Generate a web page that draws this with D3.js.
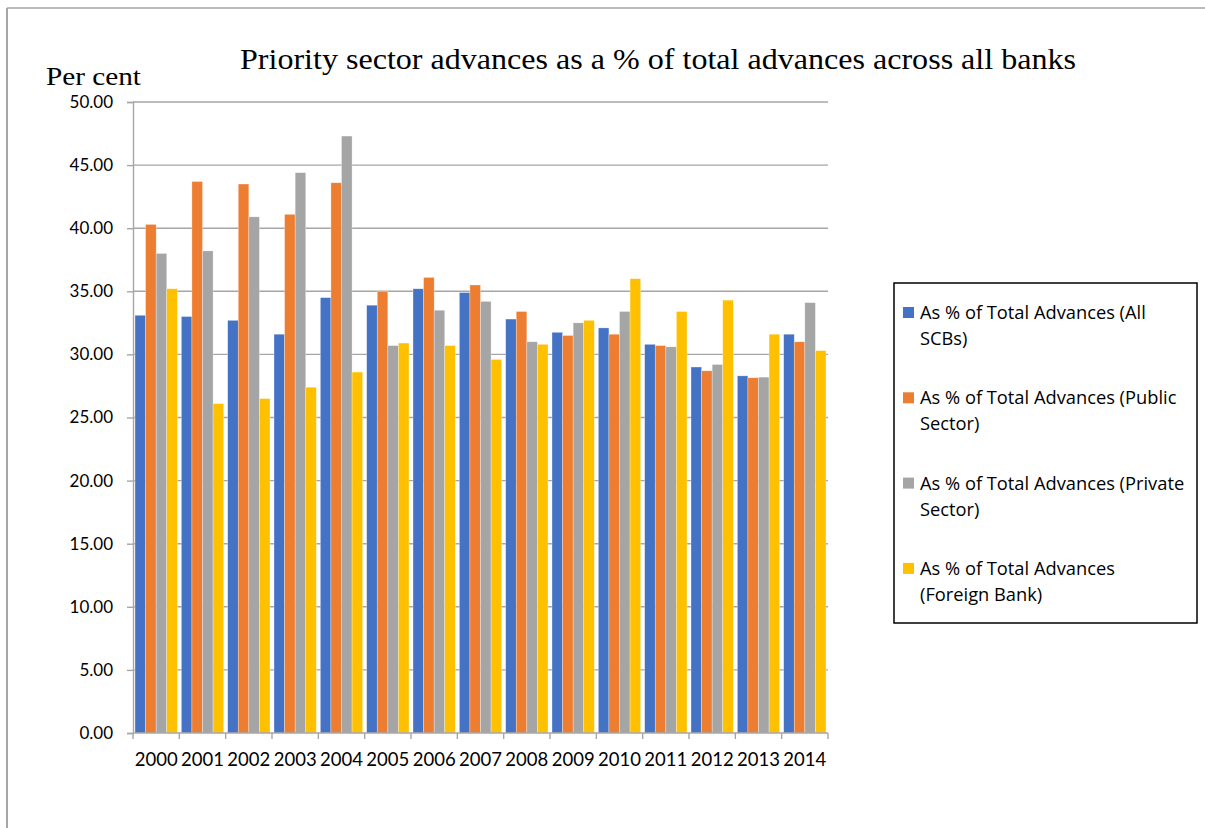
<!DOCTYPE html>
<html>
<head>
<meta charset="utf-8">
<script src="https://cdn.jsdelivr.net/npm/d3@7"></script>
<style>
  html, body { margin: 0; padding: 0; background: #fff; }
  svg { display: block; }
</style>
</head>
<body>
<svg id="chart" width="1205" height="828"></svg>
<script>
// Years on the category axis
const years = ["2000","2001","2002","2003","2004","2005","2006","2007","2008","2009","2010","2011","2012","2013","2014"];

// Priority sector advances as % of total advances, by bank group
const allSCBs       = [33.1, 33.0, 32.7, 31.6, 34.5, 33.9, 35.2, 34.9, 32.8, 31.75, 32.1, 30.8, 29.0, 28.3, 31.6];
const publicSector  = [40.3, 43.7, 43.5, 41.1, 43.6, 35.0, 36.1, 35.5, 33.4, 31.5, 31.6, 30.7, 28.7, 28.15, 31.0];
const privateSector = [38.0, 38.2, 40.9, 44.4, 47.3, 30.7, 33.5, 34.2, 31.0, 32.5, 33.4, 30.6, 29.2, 28.2, 34.1];
const foreignBank   = [35.2, 26.1, 26.5, 27.4, 28.6, 30.9, 30.7, 29.6, 30.8, 32.7, 36.0, 33.4, 34.3, 31.6, 30.3];

const seriesNames = [
  ["As % of Total Advances (All", "SCBs)"],
  ["As % of Total Advances (Public", "Sector)"],
  ["As % of Total Advances (Private", "Sector)"],
  ["As % of Total Advances", "(Foreign Bank)"]
];
const yTicks = [0, 5, 10, 15, 20, 25, 30, 35, 40, 45, 50];

const seriesValues = [allSCBs, publicSector, privateSector, foreignBank];
const colors = ["#4472C4", "#ED7D31", "#A5A5A5", "#FFC000"];

const svg = d3.select("#chart");

// Outer frame (top and left edges)
svg.append("line").attr("x1", 7).attr("x2", 1205).attr("y1", 8).attr("y2", 8)
  .attr("stroke", "#a6a6a6").attr("stroke-width", 1.5);
svg.append("line").attr("x1", 7).attr("x2", 7).attr("y1", 8).attr("y2", 828)
  .attr("stroke", "#a6a6a6").attr("stroke-width", 2);

const plot = { left: 133, right: 828, top: 102, bottom: 733 };

const x = d3.scaleBand().domain(years).range([plot.left, plot.right]).paddingInner(0).paddingOuter(0);
const inner = d3.scaleBand().domain(d3.range(4)).range([0, x.bandwidth()]).paddingInner(0).paddingOuter(0.19);
const y = d3.scaleLinear().domain([0, 50]).range([plot.bottom, plot.top]);

// Horizontal gridlines
svg.append("g").selectAll("line").data(yTicks.slice(1)).join("line")
  .attr("x1", plot.left).attr("x2", plot.right)
  .attr("y1", d => y(d)).attr("y2", d => y(d))
  .attr("stroke", "#a6a6a6").attr("stroke-width", 1.4);

// Bars
const groups = svg.append("g").selectAll("g").data(years).join("g")
  .attr("transform", d => `translate(${x(d)},0)`);
groups.selectAll("rect").data((yr, i) => seriesValues.map((s, k) => ({ k, v: s[i] }))).join("rect")
  .attr("x", d => inner(d.k))
  .attr("width", inner.bandwidth())
  .attr("y", d => y(d.v))
  .attr("height", d => y(0) - y(d.v))
  .attr("fill", d => colors[d.k])
  .attr("stroke", "#ffffff").attr("stroke-opacity", 0.5).attr("stroke-width", 0.6);

// Y axis
const yAxis = d3.axisLeft(y).tickValues(yTicks).tickFormat(d3.format(".2f")).tickSize(6).tickPadding(14);
const yg = svg.append("g").attr("transform", `translate(${plot.left},0)`).call(yAxis);
yg.select(".domain").attr("stroke", "#a6a6a6").attr("stroke-width", 1.4);
yg.selectAll(".tick line").attr("stroke", "#a6a6a6").attr("stroke-width", 1.4);
yg.selectAll(".tick text").attr("font-family", "Lato, 'Noto Sans', sans-serif")
  .attr("font-size", 17).attr("fill", "#000");

// X axis with ticks between categories
const xg = svg.append("g").attr("transform", `translate(0,${plot.bottom})`);
xg.append("line").attr("x1", plot.left).attr("x2", plot.right).attr("y1", 0).attr("y2", 0)
  .attr("stroke", "#a6a6a6").attr("stroke-width", 1.4);
xg.selectAll("line.tk").data(years.concat(["end"])).join("line").attr("class", "tk")
  .attr("x1", (d, i) => plot.left + i * x.step()).attr("x2", (d, i) => plot.left + i * x.step())
  .attr("y1", 0).attr("y2", 6)
  .attr("stroke", "#a6a6a6").attr("stroke-width", 1.4);
xg.selectAll("text").data(years).join("text")
  .attr("x", d => x(d) + x.bandwidth() / 2).attr("y", 33)
  .attr("text-anchor", "middle")
  .attr("font-family", "Lato, 'Noto Sans', sans-serif").attr("font-size", 18.5)
  .attr("fill", "#000").text(d => d);

// Title and unit label
svg.append("text").attr("x", 240).attr("y", 69)
  .attr("font-family", "'Liberation Serif', 'Times New Roman', serif").attr("font-size", 29.5)
  .attr("textLength", 836).attr("lengthAdjust", "spacingAndGlyphs")
  .attr("fill", "#000").text("Priority sector advances as a % of total advances across all banks");
svg.append("text").attr("x", 46).attr("y", 85)
  .attr("font-family", "'Liberation Serif', 'Times New Roman', serif").attr("font-size", 25)
  .attr("textLength", 95).attr("lengthAdjust", "spacingAndGlyphs")
  .attr("fill", "#000").text("Per cent");

// Legend
const lg = svg.append("g");
lg.append("rect").attr("x", 894).attr("y", 283).attr("width", 303).attr("height", 340)
  .attr("fill", "#fff").attr("stroke", "#000").attr("stroke-width", 1.5);
const items = lg.selectAll("g.item").data(seriesNames).join("g").attr("class", "item")
  .attr("transform", (d, i) => `translate(0,${i * 85.3})`);
items.append("rect").attr("x", 903).attr("y", 307).attr("width", 11).attr("height", 11)
  .attr("fill", (d, i) => colors[i]);
items.each(function(lines) {
  const t = d3.select(this).append("text")
    .attr("font-family", "'Open Sans', Lato, sans-serif").attr("font-size", 18.3).attr("fill", "#000");
  lines.forEach((ln, j) => {
    t.append("tspan").attr("x", 920).attr("y", 319 + j * 26).text(ln);
  });
});
</script>
</body>
</html>
